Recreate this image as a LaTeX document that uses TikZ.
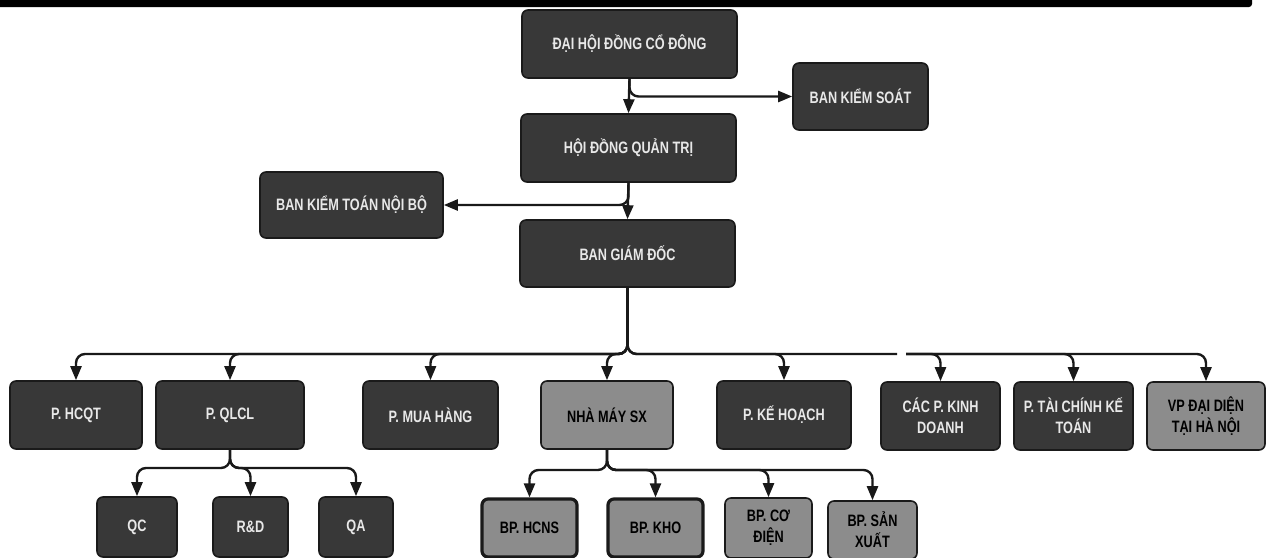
\documentclass[tikz,border=0pt]{standalone}
\usepackage{fontspec}
\usetikzlibrary{arrows.meta}
\newfontfamily\orgfont[FakeStretch=0.77]{Liberation Sans}
\definecolor{darkbox}{HTML}{383838}
\definecolor{lightbox}{HTML}{8C8C8C}
\definecolor{edgec}{HTML}{1A1A1A}
\definecolor{darktext}{HTML}{E8E8E8}
\tikzset{
  unit/.style={rounded corners=6pt, draw=edgec, line width=1.6pt, inner sep=0pt, align=center,
    font=\orgfont\bfseries\fontsize{16.5}{21}\selectfont},
  darkunit/.style={unit, fill=darkbox, text=darktext},
  lightunit/.style={unit, fill=lightbox, text=black},
  thickunit/.style={lightunit, line width=3.2pt},
  conn/.style={line width=2.4pt, draw=black!90, rounded corners=9pt, -{Triangle[width=11pt,length=14pt]}},
  busline/.style={line width=2.4pt, draw=black!90, rounded corners=9pt},
}
\begin{document}
\begin{tikzpicture}[x=1pt,y=-1pt]
\useasboundingbox (0,0) rectangle (1269,557);
\fill[black, rounded corners=3pt] (-5,-5) rectangle (1252,7);
% top levels
\node[darkunit, minimum width=215pt, minimum height=68pt] (dhd) at (629.5,44) {ĐẠI HỘI ĐỒNG CỔ ĐÔNG};
\node[darkunit, minimum width=135pt, minimum height=67pt] (bks) at (860.5,96.5) {BAN KIỂM SOÁT};
\node[darkunit, minimum width=215pt, minimum height=68pt] (hdqt) at (628.5,148) {HỘI ĐỒNG QUẢN TRỊ};
\node[darkunit, minimum width=183pt, minimum height=66pt] (bktnb) at (351.5,205) {BAN KIỂM TOÁN NỘI BỘ};
\node[darkunit, minimum width=215pt, minimum height=67pt] (bgd) at (627.5,253.5) {BAN GIÁM ĐỐC};
% row 1
\node[darkunit, minimum width=132pt, minimum height=68pt] (hcqt) at (76,415) {P. HCQT};
\node[darkunit, minimum width=148pt, minimum height=68pt] (qlcl) at (230,415) {P. QLCL};
\node[darkunit, minimum width=135pt, minimum height=68pt] (mua) at (430.5,415) {P. MUA HÀNG};
\node[lightunit, minimum width=132pt, minimum height=68pt] (nhamay) at (607,415) {NHÀ MÁY SX};
\node[darkunit, minimum width=134pt, minimum height=68pt] (kehoach) at (784,415) {P. KẾ HOẠCH};
\node[darkunit, minimum width=119pt, minimum height=68pt] (kinhdoanh) at (940.5,416) {CÁC P. KINH\\DOANH};
\node[darkunit, minimum width=119pt, minimum height=68pt] (taichinh) at (1073.5,416) {P. TÀI CHÍNH KẾ\\TOÁN};
\node[lightunit, minimum width=118pt, minimum height=68pt] (vp) at (1206,416) {VP ĐẠI DIỆN\\TẠI HÀ NỘI};
% row 2
\node[darkunit, minimum width=80pt, minimum height=60pt] (qc) at (137,527) {QC};
\node[darkunit, minimum width=75pt, minimum height=60pt] (rd) at (250.5,527) {R\&D};
\node[darkunit, minimum width=74pt, minimum height=60pt] (qa) at (356,527) {QA};
\node[thickunit, minimum width=95pt, minimum height=58pt] (hcns) at (529.5,528) {BP. HCNS};
\node[thickunit, minimum width=95pt, minimum height=58pt] (kho) at (655.5,528) {BP. KHO};
\node[lightunit, minimum width=87pt, minimum height=60pt] (codien) at (768.5,528) {BP. CƠ\\ĐIỆN};
\node[lightunit, minimum width=89pt, minimum height=58pt] (sanxuat) at (872.5,530) {BP. SẢN\\XUẤT};
% bus coordinates
\coordinate (bus) at (628,354);
\coordinate (gapL) at (897,354);
\coordinate (gapR) at (906,354);
\coordinate (qlbus) at (230,468);
\coordinate (nmbus) at (607,470);
% top connectors
\draw[conn] (dhd.south) -- (hdqt.north);
\draw[conn] (dhd.south) |- (bks.west);
\draw[conn] (hdqt.south) -- (bgd.north);
\draw[conn] (hdqt.south) |- (bktnb.east);
% main bus
\foreach \c in {hcqt,qlcl,mua,nhamay,kehoach}{
  \draw[conn] (bgd.south) |- (\c.north |- bus) -- (\c.north);
}
\draw[busline] (bgd.south) |- (gapL);
\foreach \c in {kinhdoanh,taichinh,vp}{
  \draw[conn] (gapR) -| (\c.north);
}
% QLCL sub-bus
\foreach \c in {qc,rd,qa}{
  \draw[conn] (qlcl.south) |- (\c.north |- qlbus) -- (\c.north);
}
% factory sub-bus
\foreach \c in {hcns,kho,codien,sanxuat}{
  \draw[conn] (nhamay.south) |- (\c.north |- nmbus) -- (\c.north);
}
\end{tikzpicture}
\end{document}
